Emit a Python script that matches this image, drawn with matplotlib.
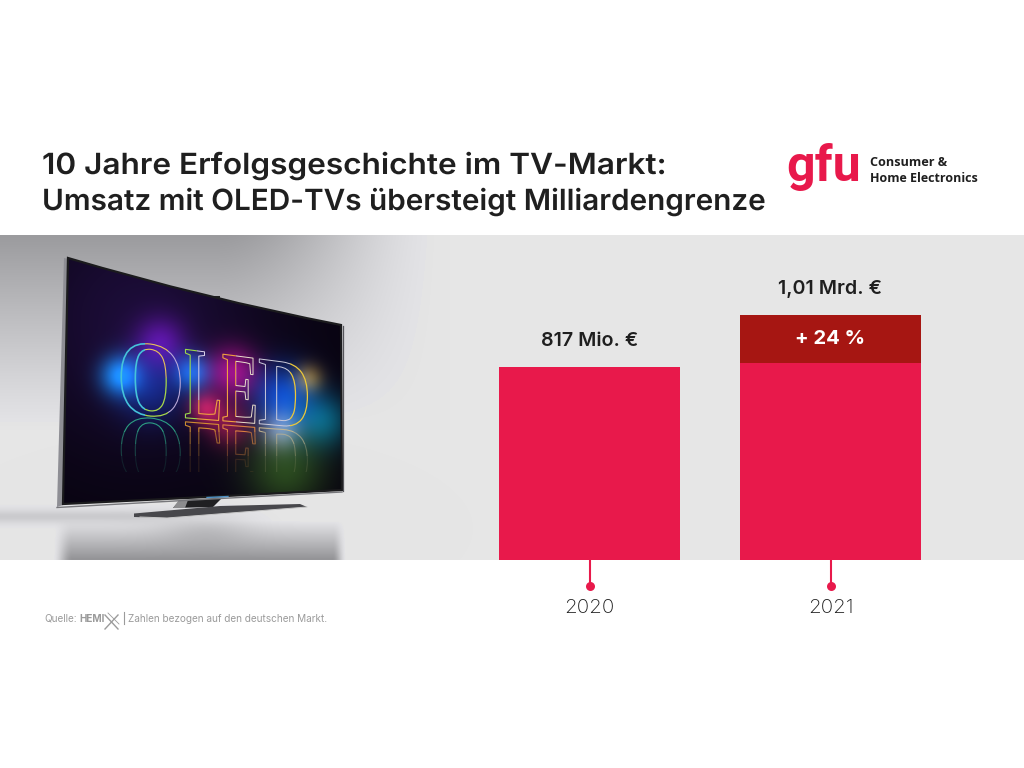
import numpy as np
import matplotlib
matplotlib.use("Agg")
import matplotlib.pyplot as plt
from matplotlib.patches import Polygon, PathPatch, Rectangle
from matplotlib.path import Path
from matplotlib.patheffects import AbstractPathEffect
from matplotlib.transforms import Affine2D, Bbox, IdentityTransform

# ---- data ----
years = ["2020", "2021"]
base_values = [817, 834]
increase_values = [0, 203]
value_labels = ["817 Mio. €", "1,01 Mrd. €"]
increase_label = "+ 24 %"
title_lines = ["10 Jahre Erfolgsgeschichte im TV-Markt:",
               "Umsatz mit OLED-TVs übersteigt Milliardengrenze"]

CRIMSON = "#E8194B"
DARKRED = "#A61612"
INK = "#1f1f1f"
W, H = 1024, 768

fig = plt.figure(figsize=(W / 100, H / 100), dpi=100, facecolor="white")
bg = fig.add_axes([0, 0, 1, 1])
bg.set_xlim(0, W)
bg.set_ylim(H, 0)
bg.axis("off")

# ---- photo strip ----
TOP, BOT = 235, 560
yy, xx = np.mgrid[TOP:BOT, 0:W].astype(float)


def sstep(a, b, v):
    t = np.clip((v - a) / (b - a), 0, 1)
    return t * t * (3 - 2 * t)


g = np.full(xx.shape, 230.0)
g -= 74 * (1 - sstep(215, 450, xx)) * np.clip(1 - (yy - 235) / 195, 0, 1) ** 1.15
floor = sstep(52, 72, xx) * (1 - sstep(332, 346, xx))
g -= 80 * floor * np.clip((yy - 520) / 38, 0, 1) ** 1.05
g -= 22 * np.exp(-((xx - 205) ** 2) / (2 * 32 ** 2)) * np.exp(-((yy - 528) ** 2) / (2 * 12 ** 2))
g -= 26 * (1 - sstep(120, 215, xx)) * np.exp(-((yy - 516) ** 2) / (2 * 5 ** 2))
tint = 2 * (g < 228)
strip = np.dstack([g - tint / 2, g - tint / 2, g + tint]) / 255
bg.imshow(np.clip(strip, 0, 1), extent=(0, W, BOT, TOP), aspect="auto", zorder=1,
          interpolation="bilinear")
bg.set_xlim(0, W)
bg.set_ylim(H, 0)

# ---- television ----
screen_path = Path(
    [(68, 258), (204.5, 298.5), (341, 325), (342, 490), (202, 497.4), (63, 504), (68, 258)],
    [Path.MOVETO, Path.CURVE3, Path.CURVE3, Path.LINETO, Path.CURVE3, Path.CURVE3, Path.CLOSEPOLY],
)
bg.add_patch(Polygon([(64, 258), (69, 259), (63, 505), (57, 507)], fc="#8e8e94", ec="none", zorder=2))
bg.add_patch(Rectangle((214, 296), 6, 3, fc="#222222", ec="none", zorder=2))

# stand
bg.add_patch(Polygon([(173, 508), (180, 500), (222, 498), (213, 507)], fc="#202022", ec="none", zorder=2))
bg.add_patch(Polygon([(173, 508), (179, 500), (188, 500), (185, 508)], fc="#8c8c8e", ec="none", zorder=2))
bg.add_patch(Polygon([(134, 513.5), (220, 506), (300, 504), (307, 507), (167, 518), (134, 517)],
                     fc="#47474b", ec="none", zorder=2))
bg.plot([140, 167, 307], [517, 518, 507], color="#c8c8c8", lw=0.7, zorder=2)

scr = np.zeros(xx.shape + (3,))
scr[..., 0] = 0.03
scr[..., 1] = 0.015
scr[..., 2] = 0.06
blobs = [
    (140, 320, 90, (0.08, 0.035, 0.16)),
    (120, 375, 14, (0.02, 0.50, 0.75)),
    (150, 388, 24, (0.0, 0.11, 0.34)),
    (160, 342, 18, (0.26, 0.03, 0.42)),
    (192, 372, 13, (0.0, 0.36, 0.62)),
    (232, 372, 18, (0.55, 0.03, 0.38)),
    (205, 408, 11, (0.58, 0.08, 0.20)),
    (283, 395, 21, (0.0, 0.26, 0.68)),
    (322, 420, 19, (0.0, 0.34, 0.40)),
    (285, 468, 28, (0.13, 0.27, 0.05)),
    (308, 378, 10, (0.46, 0.32, 0.0)),
    (280, 430, 14, (0.38, 0.38, 0.44)),
    (228, 425, 15, (0.40, 0.05, 0.15)),
]
for bx, by, s, col in blobs:
    blob = np.exp(-((xx - bx) ** 2 + (yy - by) ** 2) / (2 * s ** 2))
    for i in range(3):
        scr[..., i] += col[i] * blob
im = bg.imshow(np.clip(scr, 0, 1), extent=(0, W, BOT, TOP), aspect="auto", zorder=3,
               interpolation="bilinear")
bg.set_xlim(0, W)
bg.set_ylim(H, 0)
frame = PathPatch(screen_path, fc="none", ec="#1b1b1d", lw=1.6, zorder=4)
bg.add_patch(frame)
im.set_clip_path(frame)
bg.plot([57, 202, 342], [507.5, 499.5, 492], color="#77777b", lw=1.0, zorder=4)
bg.plot([342.5, 342.5], [326, 491], color="#55555a", lw=0.9, zorder=4)
bg.plot([207, 228], [497.5, 496.5], color="#4c8fc4", lw=1.0, zorder=5)


def clip_px(x0, y0, x1, y1):
    return Bbox.from_extents(x0, H - y1, x1, H - y0)


class ScreenLettering(AbstractPathEffect):
    """Bends one real text onto the curved screen and draws it as coloured outlines."""

    def __init__(self, ax_, ay_, em, nat, tgt, ops):
        super().__init__()
        self.ax_, self.ay_, self.em, self.nat, self.tgt, self.ops = ax_, ay_, em, nat, tgt, ops

    def _map(self, verts, mirrored):
        nx = (verts[:, 0] - self.ax_) / self.em
        x = np.interp(nx, self.nat, self.tgt)
        rel = (verts[:, 1] - (H - self.ay_)) / (0.662 * self.em)
        base = 415 + (x - 150) * 0.08
        top = 344 + (x - 150) * 0.13
        h = base - top
        y = base + 4 + rel * h * 0.92 if mirrored else base - rel * h
        return np.column_stack([x, H - y])

    def draw_path(self, renderer, gc, tpath, affine, rgbFace=None):
        verts = affine.transform(tpath.vertices)
        for box, color, lw, alpha, mirrored in self.ops:
            g0 = renderer.new_gc()
            g0.copy_properties(gc)
            g0.set_clip_rectangle(clip_px(*box))
            g0.set_alpha(alpha)
            g0.set_foreground(color)
            g0.set_linewidth(lw)
            renderer.draw_path(g0, Path(self._map(verts, mirrored), tpath.codes),
                               IdentityTransform(), None)
            g0.restore()


ops = [
    ((110, 330, 145, 430), "#45c3da", 1.2, 1, False),
    ((145, 330, 168, 378), "#e8c25a", 0.8, 1, False),
    ((145, 378, 168, 430), "#a8d84a", 0.9, 1, False),
    ((168, 330, 184.5, 430), "#b8a8d8", 0.8, 1, False),
    ((184.5, 340, 197, 440), "#9bd84a", 0.8, 1, False),
    ((197, 340, 222, 400), "#dcd4ec", 0.7, 1, False),
    ((197, 400, 222, 440), "#f0a040", 0.8, 1, False),
    ((222, 340, 236, 440), "#f0a040", 0.8, 1, False),
    ((236, 340, 258, 440), "#eadfcc", 0.7, 1, False),
    ((258, 340, 290, 440), "#ccccdc", 0.7, 1, False),
    ((290, 340, 320, 440), "#ecc83a", 0.9, 1, False),
]
for x0, x1, col in [(110, 184.5, "#2fae8a"), (184.5, 222, "#e09a30"),
                    (222, 258, "#e88a40"), (258, 320, "#c8b890")]:
    for (y0, y1), a in zip([(416, 432), (432, 444), (444, 456), (456, 472)], (0.9, 0.6, 0.35, 0.15)):
        ops.append(((x0, y0, x1, y1), col, 0.8, a, True))

OLED_X, OLED_Y, OLED_PT = 117, 415, 74
bg.text(OLED_X, OLED_Y, "OLED", family="Liberation Serif", weight="bold", fontsize=OLED_PT,
        ha="left", va="baseline", color="none", zorder=6, clip_on=False,
        path_effects=[ScreenLettering(OLED_X, OLED_Y, OLED_PT * 100 / 72,
                                      [0, 0.778, 1.445, 2.112, 2.834],
                                      [117, 184.5, 222, 258, 311], ops)])


class StretchX(AbstractPathEffect):
    """Fills real text with a small horizontal stretch about its left edge."""

    def __init__(self, x, sx):
        super().__init__()
        self.t = Affine2D().translate(-x, 0).scale(sx, 1).translate(x, 0)

    def draw_path(self, renderer, gc, tpath, affine, rgbFace=None):
        renderer.draw_path(gc, tpath, affine + self.t, rgbFace)


# ---- bars, on their own value axis ----
PX_PER_VALUE = 193 / 817
ax = fig.add_axes([0, (H - BOT) / H, 1, (BOT - TOP) / H], zorder=5)
ax.patch.set_alpha(0)
STEP = 241
ax.set_xlim(-589.5 / STEP, (W - 589.5) / STEP)
ax.set_ylim(0, (BOT - TOP) / PX_PER_VALUE)
xpos = np.arange(len(years))
bw = 181.5 / STEP
ax.bar(xpos, base_values, width=bw, color=CRIMSON, linewidth=0)
ax.bar(xpos, increase_values, width=bw, bottom=base_values, color=DARKRED, linewidth=0)
for s in ax.spines.values():
    s.set_visible(False)
ax.yaxis.set_visible(False)
ax.set_xticks(xpos, years, family="Inter", weight="light", fontsize=14.8, color=INK)
ax.tick_params(axis="x", length=18, width=1.5, color=CRIMSON, pad=10, direction="out")
ax.scatter(xpos, [-26 / (BOT - TOP)] * len(xpos), s=42, color=CRIMSON, linewidth=0,
           transform=ax.get_xaxis_transform(), clip_on=False, zorder=6)

totals = [b + d for b, d in zip(base_values, increase_values)]
for x, tot, lab in zip(xpos, totals, value_labels):
    ax.annotate(lab, (x, tot), xytext=(0, 15), textcoords="offset points", ha="center",
                va="baseline", family="Inter", weight="semibold", fontsize=14.2, color=INK)
ax.text(xpos[1], base_values[1] + increase_values[1] / 2, increase_label, color="white",
        family="Inter", weight="bold", fontsize=14.6, ha="center", va="center")

# ---- title and logo ----
TITLE_PT = 21
for text, y, sx in zip(title_lines, (174, 210), (1.082, 1.018)):
    bg.text(42, y, text, family="Inter", weight="semibold", fontsize=TITLE_PT, color=INK,
            va="baseline", ha="left", zorder=8, path_effects=[StretchX(42, sx)])
bg.text(786, 181, "gfu", family="Roboto", weight="bold", fontsize=36, color=CRIMSON,
        va="baseline", ha="left", zorder=8)
bg.text(870, 166.5, "Consumer &", family="Open Sans", weight="bold", fontsize=9.1, color=INK,
        va="baseline", ha="left", zorder=8)
bg.text(870, 182, "Home Electronics", family="Open Sans", weight="bold", fontsize=9.0, color=INK,
        va="baseline", ha="left", zorder=8)

# ---- source line ----
SRC = "#9b9b9b"
bg.text(44, 622, "Quelle:", family="Inter", fontsize=7.2, color=SRC, va="baseline", zorder=8)
bg.text(79, 622, "HEMI", family="Inter", weight="bold", fontsize=7.2, color=SRC, va="baseline", zorder=8)
bg.plot([105, 118], [615, 629], color=SRC, lw=1.0, zorder=8)
bg.plot([105, 118], [629, 615], color=SRC, lw=1.0, zorder=8)
bg.plot([108, 119], [613, 624], color=SRC, lw=0.6, zorder=8)
bg.plot([124, 124], [612, 624], color=SRC, lw=0.8, zorder=8)
bg.text(128, 622, "Zahlen bezogen auf den deutschen Markt.", family="Inter", fontsize=7.2, color=SRC,
        va="baseline", zorder=8)

fig.savefig("out.png", dpi=100, facecolor="white")
